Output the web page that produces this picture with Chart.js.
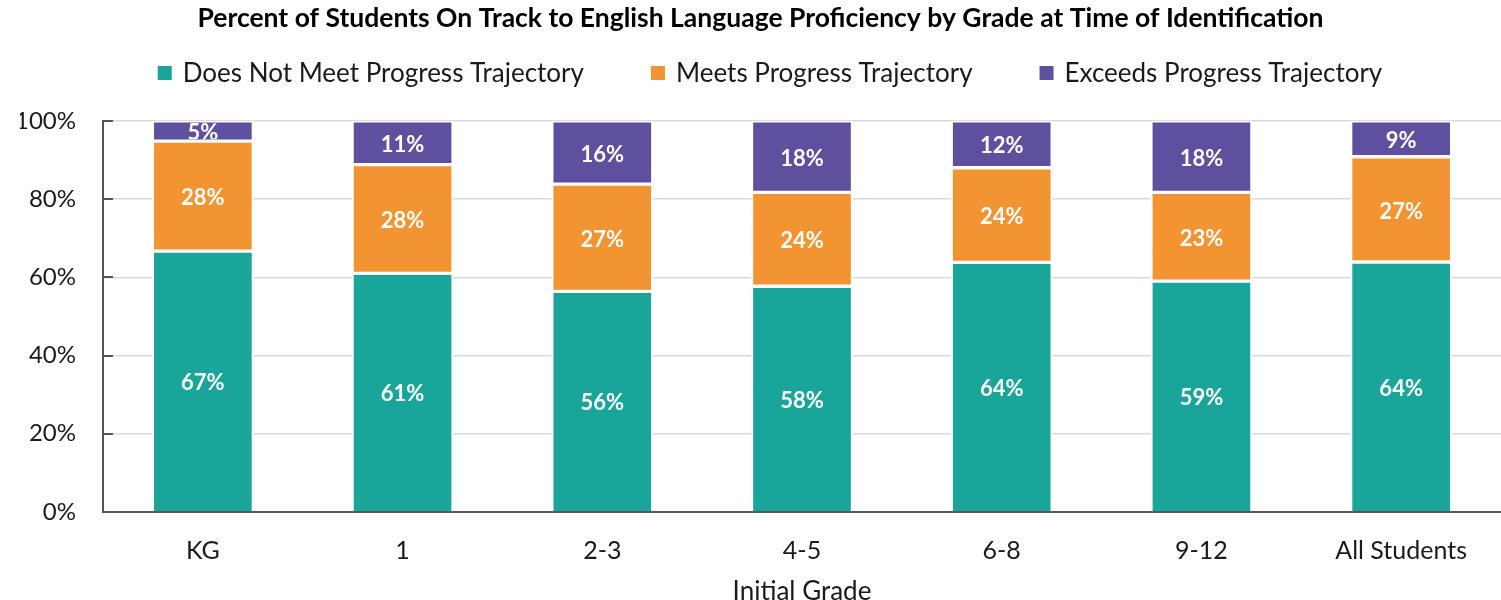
<!DOCTYPE html>
<html>
<head>
<meta charset="utf-8">
<script src="https://cdn.jsdelivr.net/npm/chart.js@4.4.0/dist/chart.umd.min.js"></script>
<style>
body{margin:0;background:#fff;}
#wrap{width:1501px;height:600px;}
</style>
</head>
<body>
<div id="wrap"><canvas id="grafico"></canvas></div>
<script>
// Datos
let grados = ["KG","1","2-3","4-5","6-8","9-12","All Students"];
let noCumple = [66.7,61.0,56.4,57.7,63.8,59.0,63.9];
let cumple = [28.1,27.8,27.4,24.0,24.2,22.7,26.9];
let supera = [5.2,11.2,16.2,18.3,12.0,18.3,9.2];
let series = ["Does Not Meet Progress Trajectory","Meets Progress Trajectory","Exceeds Progress Trajectory"];
let colores = ["#1aa59a","#f39433","#5e4f9f"];
let ticksY = [0,20,40,60,80,100];
let titulo = "Percent of Students On Track to English Language Proficiency by Grade at Time of Identification";
let tituloX = "Initial Grade";

let fuente = "Lato";

// Etiquetas blancas dentro de cada barra
const etiquetas = {
  id:"etiquetas",
  afterDatasetsDraw(chart){
    let ctx = chart.ctx;
    chart.data.datasets.forEach((ds,i)=>{
      chart.getDatasetMeta(i).data.forEach((bar,j)=>{
        let p = bar.getProps(["x","y","base","width"],true);
        let top = Math.min(p.y,p.base);
        let h = Math.abs(p.base-p.y);
        ctx.save();
        ctx.beginPath();
        ctx.rect(p.x-p.width/2, top+2, p.width, h-4);
        ctx.clip();
        ctx.fillStyle = "#fff";
        ctx.font = "bold 22px " + fuente;
        ctx.textAlign = "center";
        ctx.textBaseline = "middle";
        ctx.fillText(Math.round(ds.data[j])+"%", p.x, top+h/2+2);
        ctx.restore();
      });
    });
  }
};

// Marcas del eje Y hacia dentro
const marcas = {
  id:"marcas",
  afterDraw(chart){
    let ctx = chart.ctx;
    let y = chart.scales.y;
    ctx.save();
    ctx.strokeStyle = "#555";
    ctx.lineWidth = 2;
    y.ticks.forEach(t=>{
      let py = Math.round(y.getPixelForValue(t.value));
      ctx.beginPath();
      ctx.moveTo(y.right, py);
      ctx.lineTo(y.right+10, py);
      ctx.stroke();
    });
    ctx.restore();
  }
};

// Leyenda propia (para el espacio entre items)
const leyenda = {
  id:"leyenda",
  afterDraw(chart){
    let ctx = chart.ctx;
    ctx.save();
    ctx.font = "26px " + fuente;
    let anchos = series.map(s=>14+11+ctx.measureText(s).width);
    let total = anchos.reduce((a,b)=>a+b,0) + 2*67;
    let x = 770 - total/2;
    let yC = 73;
    ctx.textBaseline = "middle";
    ctx.textAlign = "left";
    series.forEach((s,i)=>{
      ctx.fillStyle = colores[i];
      ctx.fillRect(x, yC-7, 14, 14);
      ctx.fillStyle = "#1a1a1a";
      ctx.fillText(s, x+25, yC+1);
      x += anchos[i] + 67;
    });
    ctx.restore();
  }
};

let datos = [noCumple, cumple, supera];

new Chart(document.getElementById("grafico"),{
  type:"bar",
  data:{
    labels:grados,
    datasets:datos.map((d,i)=>({
      label:series[i],
      data:d,
      backgroundColor:colores[i],
      borderColor:"#fff",
      borderWidth:2,
      borderSkipped: i===0 ? "start" : false,
      barThickness:101
    }))
  },
  options:{
    responsive:true,
    maintainAspectRatio:false,
    animation:false,
    layout:{padding:{left:20,right:0,top:0,bottom:0}},
    plugins:{
      legend:{display:false},
      tooltip:{enabled:false},
      title:{
        display:true,
        text:titulo,
        color:"#000",
        font:{family:fuente,size:26.5,weight:"bold"},
        padding:{top:3,bottom:86}
      }
    },
    scales:{
      x:{
        stacked:true,
        z:1,
        grid:{display:false},
        border:{display:true,color:"#555",width:2},
        ticks:{color:"#1a1a1a",font:{family:fuente,size:25,lineHeight:1},padding:18},
        title:{display:true,text:tituloX,color:"#1a1a1a",font:{family:fuente,size:26,lineHeight:1},padding:{top:-2,bottom:-5}}
      },
      y:{
        stacked:true,
        min:0,max:100,
        afterBuildTicks:s=>{ s.ticks = ticksY.map(v=>({value:v})); },
        afterFit:s=>{ s.width = 83; },
        grid:{color:"#d9d9d9",lineWidth:1.5,drawTicks:false},
        border:{display:true,color:"#555",width:2},
        ticks:{color:"#1a1a1a",font:{family:fuente,size:24},padding:27,callback:v=>v+"%"}
      }
    }
  },
  plugins:[etiquetas,marcas,leyenda]
});
</script>
</body>
</html>
